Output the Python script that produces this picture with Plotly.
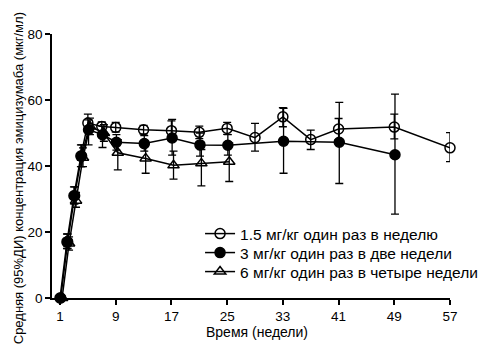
import plotly.graph_objects as go

# Weekly 1.5 mg/kg
weeks_a = [1, 2, 3, 4, 5, 7, 9, 13, 17, 21, 25, 29, 33, 37, 41, 49, 57]
mean_a = [0, 17, 31, 43, 53, 52, 51.7, 51, 50.7, 50.2, 51.4, 48.6, 54.9, 48, 51.2, 51.8, 45.5]
hi_a = [0, 19.4, 33.7, 46.4, 55.7, 53.4, 53.2, 52.3, 53.7, 52.1, 53.2, 52.9, 57.7, 50.9, 54.4, 55.7, 50.1]
lo_a = [0, 15, 28.5, 39.8, 50.5, 50.6, 50.3, 49.7, 47.7, 48.3, 49.6, 44.5, 51.9, 45, 48, 48.2, 41.3]

# Every 2 weeks 3 mg/kg
weeks_b = [1, 2, 3, 4, 5, 7, 9, 13, 17, 21, 25, 33, 41, 49]
mean_b = [0, 17, 31, 43, 51, 49.5, 47.2, 46.8, 48.5, 46.4, 46.3, 47.5, 47.2, 43.4]
hi_b = [0, 19.4, 33.7, 46.4, 54, 52, 49.5, 49.2, 54.1, 50, 49.5, 57.5, 59.3, 61.8]
lo_b = [0, 15, 28.5, 39.8, 46.4, 45.6, 44.8, 44.5, 43.3, 43, 43.3, 37.8, 34.7, 25.4]

# Every 4 weeks 6 mg/kg
weeks_c = [1, 2, 3, 4, 5, 7, 9, 13, 17, 21, 25]
mean_c = [0, 16.5, 29.5, 42.5, 52, 50, 44, 42.3, 40.2, 40.8, 41.3]
hi_c = [0, 18.5, 32, 45.5, 54.5, 52.5, 48, 46.5, 44.5, 45, 47]
lo_c = [0, 14.5, 27.5, 39.8, 49.5, 47.5, 38.8, 37.8, 36, 34, 35.3]

names = ["1.5 мг/кг один раз в неделю",
         "3 мг/кг один раз в две недели",
         "6 мг/кг один раз в четыре недели"]

x_ticks = [1, 9, 17, 25, 33, 41, 49, 57]
y_ticks = [0, 20, 40, 60, 80]

x_title = "Время (недели)"
y_title = "Средняя (95%ДИ) концентрация эмицизумаба (мкг/мл)"

FONT = "Liberation Sans, Arial, Helvetica, sans-serif"

fig = go.Figure()

def add(weeks, mean, hi, lo, name, symbol, shift, legend):
    fig.add_trace(go.Scatter(
        x=[w + shift for w in weeks], y=mean, name=name,
        mode="lines+markers",
        line=dict(color="black", width=1.5),
        marker=dict(symbol=symbol, size=10, color="black",
                    line=dict(color="black", width=1.5)),
        error_y=dict(type="data", symmetric=False,
                     array=[h - m for h, m in zip(hi, mean)],
                     arrayminus=[m - l for m, l in zip(mean, lo)],
                     color="black", thickness=1.3, width=4),
        cliponaxis=False,
        legend=legend,
    ))

add(weeks_a, mean_a, hi_a, lo_a, names[0], "circle-open", 0, "legend")
add(weeks_b, mean_b, hi_b, lo_b, names[1], "circle", 0.1, "legend2")
add(weeks_c, mean_c, hi_c, lo_c, names[2], "triangle-up-open", 0.3, "legend3")

def leg(y):
    return dict(x=0.372, y=y, xanchor="left", yanchor="middle",
                font=dict(size=15.5, family=FONT, color="black"),
                bgcolor="rgba(0,0,0,0)", itemwidth=30)

# page body has an 8px default margin; figure sized so the page fills 504x359
fig.update_layout(
    width=488, height=343,
    margin=dict(l=44, r=46, t=26, b=53, autoexpand=False),
    paper_bgcolor="white", plot_bgcolor="white",
    font=dict(family=FONT, color="black", size=13),
    showlegend=True,
    legend=leg(0.2424),
    legend2=leg(0.1705),
    legend3=leg(0.0985),
    xaxis=dict(range=[-0.15, 57], tickvals=x_ticks, ticks="outside",
               ticklen=5, tickwidth=1.5, tickcolor="black",
               showline=True, linecolor="black", linewidth=1.5,
               showgrid=False, zeroline=False, automargin=False,
               tickfont=dict(size=13.5)),
    yaxis=dict(range=[0, 80], tickvals=y_ticks, ticks="outside",
               ticklen=5, tickwidth=1.5, tickcolor="black",
               showline=True, linecolor="black", linewidth=1.5,
               showgrid=False, zeroline=False, automargin=False,
               tickfont=dict(size=13.5)),
    annotations=[
        dict(text=x_title, xref="paper", yref="paper", x=0.515, y=-0.129,
             xanchor="center", yanchor="middle", showarrow=False,
             font=dict(size=14)),
        dict(text=y_title, xref="paper", yref="paper", x=-0.082, y=0.455,
             xanchor="center", yanchor="middle", showarrow=False,
             textangle=-90, font=dict(size=13)),
    ],
)

fig.write_html("out.html")
